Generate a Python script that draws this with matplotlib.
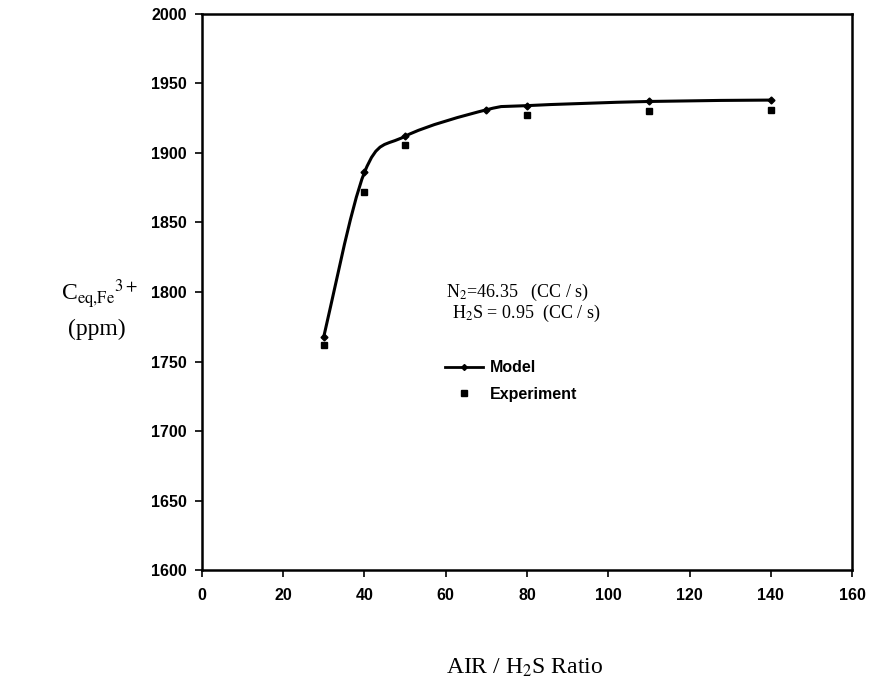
import numpy as np
import matplotlib
matplotlib.use("Agg")
import matplotlib.pyplot as plt
from matplotlib.path import Path
from matplotlib.patches import PathPatch
from matplotlib.lines import Line2D

plt.rcParams['mathtext.fontset'] = 'stix'

# model curve (air / H2S ratio vs equilibrium Fe3+ concentration)
model_x = [30, 40, 50, 70, 80, 110, 140]
model_y = [1768, 1886, 1912, 1931, 1934, 1937, 1938]
# experimental points
exp_x = [30, 40, 50, 80, 110, 140]
exp_y = [1762, 1872, 1906, 1927, 1930, 1931]

x_ticks = [0, 20, 40, 60, 80, 100, 120, 140, 160]
y_ticks = [1600, 1650, 1700, 1750, 1800, 1850, 1900, 1950, 2000]


def smooth_path(xs, ys, t=1/6):
    # catmull-rom style bezier through the points (like a spreadsheet smoothed line)
    p = np.column_stack([xs, ys]).astype(float)
    verts = [p[0]]
    codes = [Path.MOVETO]
    for i in range(len(p) - 1):
        p0 = p[i - 1] if i > 0 else p[i]
        p3 = p[i + 2] if i + 2 < len(p) else p[i + 1]
        c1 = p[i] + (p[i + 1] - p0) * t
        c2 = p[i + 1] - (p3 - p[i]) * t
        verts += [c1, c2, p[i + 1]]
        codes += [Path.CURVE4] * 3
    return Path(verts, codes)


fig = plt.figure(figsize=(8.74, 6.92), dpi=100)
ax = fig.add_axes([0.231, 0.176, 0.744, 0.804])

ax.add_patch(PathPatch(smooth_path(model_x, model_y), fill=False,
                       lw=2.2, edgecolor='black'))
ax.plot(model_x, model_y, ls='none', marker='D', ms=3.5, color='black')
ax.plot(exp_x, exp_y, ls='none', marker='s', ms=5, color='black')

ax.set_xlim(0, 160)
ax.set_ylim(1600, 2000)
ax.set_xticks(x_ticks)
ax.set_yticks(y_ticks)
for lab in ax.get_xticklabels() + ax.get_yticklabels():
    lab.set_fontfamily('Liberation Sans')
    lab.set_fontweight('bold')
    lab.set_fontsize(11.5)
ax.tick_params(direction='out', length=5, width=1.2, pad=6)
ax.tick_params(axis='x', pad=8)
for s in ax.spines.values():
    s.set_linewidth(1.8)

# legend
handles = [Line2D([], [], color='black', lw=2, marker='D', ms=3),
           Line2D([], [], ls='none', color='black', marker='s', ms=5)]
ax.legend(handles, ['Model', 'Experiment'], loc='upper left',
          bbox_to_anchor=(0.352, 0.403), frameon=False, handlelength=2.4,
          handletextpad=0.4, labelspacing=0.7,
          prop={'family': 'Liberation Sans', 'weight': 'bold', 'size': 11.5})

# operating conditions
ax.text(0.376, 0.5, "N$_2$=46.35   (CC / s)", transform=ax.transAxes,
        fontfamily='Liberation Serif', fontsize=13, va='center')
ax.text(0.384, 0.461, "H$_2$S = 0.95  (CC / s)", transform=ax.transAxes,
        fontfamily='Liberation Serif', fontsize=13, va='center')

# axis titles
fig.text(0.07, 0.574, r"C$_{\mathrm{eq{,}Fe}}$$^{3+}$", fontsize=17,
         fontfamily='Liberation Serif', va='center')
fig.text(0.078, 0.524, "(ppm)", fontsize=17,
         fontfamily='Liberation Serif', va='center')
fig.text(0.6, 0.035, "AIR / H$_2$S Ratio", fontsize=17,
         fontfamily='Liberation Serif', ha='center', va='center')

fig.savefig("out.png", dpi=100)
